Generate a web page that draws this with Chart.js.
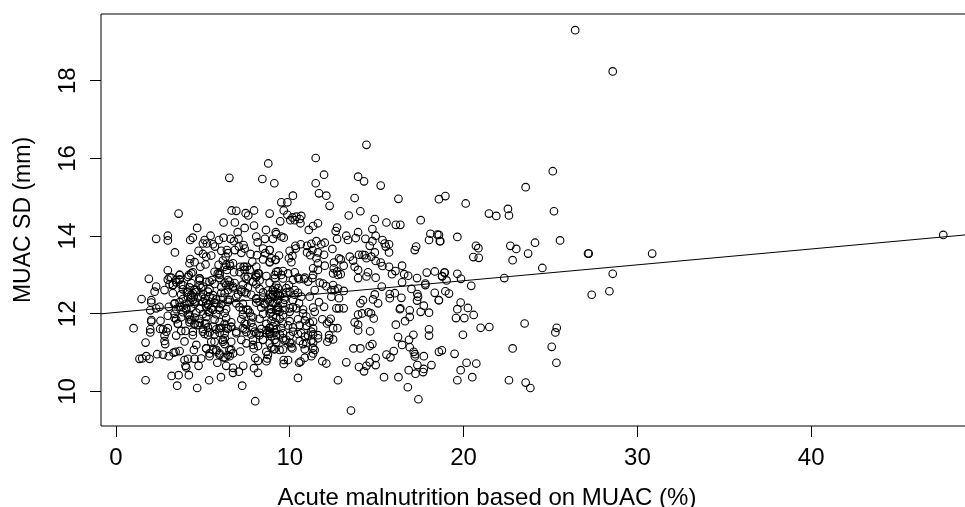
<!DOCTYPE html>
<html>
<head>
<meta charset="utf-8">
<title>MUAC SD vs acute malnutrition</title>
<script src="https://cdn.jsdelivr.net/npm/chart.js@4/dist/chart.umd.min.js"></script>
<style>
    html, body { margin: 0; padding: 0; background: #fff; overflow: hidden; }
    canvas { display: block; }
</style>
</head>
<body>
<canvas id="muacChart" width="965" height="507"></canvas>
<script>
const xTitle = 'Acute malnutrition based on MUAC (%)';
const yTitle = 'MUAC SD (mm)';
const xTicks = [0, 10, 20, 30, 40];
const yTicks = [10, 12, 14, 16, 18];

// same row layout in both lists
const acuteMalnutrition = [
    26.42,28.58,47.6,25.13,23.57,18.95,18.58,20.12,21.46,21.88,
    22.55,22.61,25.20,18.58,18.66,19.64,20.71,20.85,20.56,20.87,
    22.69,23.03,23.71,24.11,25.55,22.82,27.16,27.20,30.85,24.53,
    18.89,19.64,18.77,19.02,19.85,22.34,20.44,28.58,28.39,27.37,
    18.95,19.16,18.58,19.83,19.64,20.25,20.58,19.56,20.04,20.98,
    21.48,19.96,23.51,25.36,25.28,22.82,25.07,25.34,18.75,18.58,
    19.48,20.17,20.73,19.83,19.64,20.50,22.61,23.57,23.84,
    14.41,11.49,8.76,11.97,13.93,14.27,11.49,9.11,15.23,11.68,
    12.10,10.18,9.51,9.86,12.29,13.73,16.25,9.65,14.06,13.39,
    8.84,9.86,14.89,15.56,16.10,16.36,17.53,9.45,10.15,10.38,
    10.66,10.03,10.28,10.57,10.61,11.62,11.34,11.09,12.72,12.64,
    13.93,14.75,9.19,9.22,9.03,9.51,9.65,13.25,13.35,13.79,
    12.72,14.35,14.94,14.75,14.60,15.33,15.46,15.71,15.52,15.71,
    14.89,18.09,18.49,18.01,18.63,17.27,17.19,12.45,11.53,12.01,
    11.81,11.24,10.99,10.63,10.32,10.34,9.99,8.84,11.30,10.99,
    11.18,11.62,11.97,11.53,10.15,9.95,10.09,9.38,8.94,9.19,
    8.84,13.45,13.98,14.18,14.31,14.41,13.64,14.69,12.83,12.93,
    12.54,13.10,12.01,11.62,11.34,11.62,12.53,12.72,12.93,13.73,
    13.93,14.94,15.33,15.71,15.23,16.46,16.08,15.88,16.58,16.81,
    17.32,17.88,18.34,18.92,18.76,14.50,14.41,13.93,14.94,10.28,
    9.90,9.61,9.32,9.13,10.47,10.86,11.34,11.30,12.77,12.49,
    15.29,16.46,17.00,17.80,17.80,18.34,18.57,17.34,17.38,17.32,
    15.75,16.04,15.75,16.42,14.89,14.79,15.08,14.21,14.06,17.71,
    17.53,18.01,16.33,16.36,16.90,16.90,16.63,16.10,13.93,14.16,
    14.52,14.67,14.83,13.73,13.93,13.93,14.62,18.01,18.01,17.11,
    16.23,16.86,16.46,16.90,14.75,14.60,13.66,14.06,15.98,15.56,
    15.79,17.13,17.21,17.19,17.71,14.94,14.60,14.41,13.98,14.27,
    14.94,17.34,18.15,17.71,17.67,16.84,17.23,15.42,16.25,16.79,
    17.40,13.52,12.77,10.47,13.25,11.87,12.10,9.65,9.65,9.90,
    10.53,10.62,10.86,11.24,11.34,11.43,9.09,12.49,12.16,12.26,
    12.26,12.49,12.74,12.24,12.35,11.87,12.14,12.68,12.83,13.10,
    11.34,11.68,11.97,12.39,12.83,13.10,12.39,12.49,12.58,12.77,
    12.10,11.91,11.72,11.43,11.14,11.05,10.82,10.53,10.18,9.95,
    10.28,10.47,9.61,10.53,9.99,10.38,9.32,9.03,9.61,9.99,
    10.76,10.95,11.43,10.57,11.14,11.34,10.18,10.66,10.86,11.24,
    11.62,11.62,9.61,9.99,10.15,10.76,11.34,8.84,9.22,8.84,
    9.61,9.03,9.32,9.61,9.99,9.13,9.61,
    8.84,9.13,9.42,9.80,10.28,8.94,9.32,9.70,10.18,10.66,
    8.94,9.32,9.70,10.18,10.76,8.94,9.42,9.99,10.47,10.86,
    9.03,9.51,9.90,10.18,10.95,11.34,8.94,9.42,9.99,10.47,
    11.05,11.34,9.22,9.70,10.09,10.57,10.95,11.24,8.94,9.61,
    10.09,10.86,11.34,
    6.52,8.42,3.60,6.65,6.92,7.46,7.61,7.94,6.19,6.84,
    7.40,7.94,4.67,2.31,2.98,2.98,4.27,4.42,5.44,5.10,
    5.00,5.23,6.19,5.92,6.59,6.79,7.05,7.00,5.58,5.69,
    8.07,8.15,8.57,8.63,3.39,4.75,5.00,5.19,5.48,6.06,
    6.38,6.44,6.84,7.07,7.34,7.40,7.21,4.27,4.52,4.85,
    5.15,6.31,6.15,5.90,6.25,6.54,6.38,6.57,7.74,8.11,
    7.84,8.46,8.84,8.59,8.46,8.84,9.17,7.15,7.34,7.53,
    7.40,2.98,3.66,4.42,4.19,5.86,5.96,6.79,7.11,8.07,
    8.22,8.65,1.89,3.08,4.81,5.52,7.40,
    2.31,2.22,2.79,3.27,3.27,1.47,2.03,2.03,2.31,2.50,
    1.97,3.04,2.98,2.56,2.03,2.03,1.01,1.97,1.97,2.54,
    2.70,2.98,2.89,2.79,3.46,1.70,2.79,2.83,3.94,3.75,
    4.00,4.42,4.42,4.62,4.48,5.19,5.38,2.37,2.70,3.04,
    3.31,3.43,3.66,1.35,1.51,1.74,1.93,3.94,4.14,4.52,
    4.90,5.83,4.00,4.04,4.75,5.38,5.77,5.96,6.34,6.73,
    6.73,7.07,7.32,7.94,8.17,8.01,8.17,8.65,8.70,7.15,
    7.92,8.17,9.13,8.65,8.74,1.70,3.20,3.60,4.19,3.52,
    4.67,5.36,6.04,7.26,8.01,6.29,6.54,6.73,6.19,6.63,
    5.77,5.67,5.48,6.15,6.25,6.63,6.92,7.50,7.88,8.46,
    8.65,9.13,8.07,7.30,
    2.98,3.18,3.66,4.14,4.81,5.96,6.44,7.50,8.07,8.26,
    9.13,3.08,3.46,3.75,4.33,4.81,5.19,5.67,6.25,6.54,
    6.82,7.30,7.88,8.07,8.84,9.22,3.85,4.23,4.52,4.90,
    5.38,6.06,6.44,6.73,7.21,7.59,8.26,8.74,9.13,3.75,
    4.08,4.33,4.62,5.00,5.29,5.58,6.06,7.02,7.40,7.78,
    8.46,9.03,9.32,3.85,4.14,4.42,4.71,5.10,5.38,5.77,
    6.15,6.54,6.92,8.07,8.46,8.74,9.13,3.37,3.66,3.94,
    4.23,4.52,5.00,5.29,5.67,6.06,6.44,7.30,8.07,8.55,
    9.03,3.46,3.75,4.04,4.33,4.81,5.19,5.58,5.96,6.34,
    7.11,7.50,8.36,8.84,9.32,3.37,3.85,4.14,4.62,5.00,
    5.38,5.77,6.25,7.30,7.69,8.46,8.93,3.46,3.75,4.23,
    4.52,4.81,5.19,5.67,6.34,7.21,7.88,8.26,9.22,3.56,
    4.23,4.52,4.81,5.19,5.96,6.25,6.63,7.50,7.78,8.65,
    9.13,5.00,5.29,5.77,6.06,6.44,6.63,7.40,7.88,8.36,
    8.84,9.22,5.10,5.38,5.67,5.96,6.25,7.50,7.78,8.26,
    8.84,9.13,
    4.42,4.33,4.62,4.52,4.14,4.90,5.19,5.48,5.29,5.77,
    5.58,5.96,6.53,6.34,6.73,6.25,6.44,3.46,3.27,3.66,
    3.85,3.37,3.66,4.04,4.33,4.52,4.23,4.71,5.00,5.29,
    5.58,5.96,6.34,6.63,6.15,6.25,6.53,6.44,5.96,5.58,
    8.07,8.17,7.88,7.59,7.40,7.69,7.21,7.50,6.92,7.30,
    7.59,7.78,7.40,7.97,8.26,8.65,8.84,8.45,7.88,9.22,
    9.41,9.03,9.32,9.51,9.22,9.80,9.70,8.84,8.26,8.07,
    8.55,8.84,9.61,8.84,8.07,6.73,6.34,5.96,5.67,4.33,
    3.66,3.37,3.56,5.38,5.00,4.81,4.23,5.10,6.92,9.80,
    9.41,7.21,5.19
];
const muacSd = [
    19.30,18.24,14.03,15.67,15.26,15.03,14.95,14.84,14.58,14.52,
    14.70,14.53,14.64,14.03,13.87,13.98,13.75,13.69,13.46,13.44,
    13.75,13.67,13.55,13.83,13.89,13.38,13.55,13.55,13.55,13.18,
    13.06,13.03,12.97,12.86,12.90,12.92,12.72,13.03,12.58,12.49,
    12.58,12.52,12.35,12.29,12.12,12.15,11.97,11.89,11.89,11.64,
    11.66,11.46,11.75,11.64,11.52,11.11,11.15,10.74,11.06,11.02,
    10.97,10.74,10.72,10.55,10.29,10.37,10.29,10.23,10.09,
    16.35,16.01,15.87,15.58,15.53,15.41,15.36,15.36,15.30,15.10,
    15.04,15.04,14.87,14.87,14.78,14.98,14.96,14.66,14.64,14.53,
    14.58,14.55,14.44,14.35,14.29,14.29,14.41,14.38,14.48,14.50,
    14.52,14.41,14.41,14.44,14.33,14.33,14.26,14.16,14.22,14.13,
    14.10,14.18,14.10,14.05,13.93,13.99,13.96,14.01,13.90,13.95,
    13.93,13.93,14.01,13.87,13.75,13.90,13.81,13.79,13.73,13.58,
    13.58,14.06,14.04,13.90,13.87,13.73,13.64,13.67,13.87,13.83,
    13.79,13.80,13.75,13.79,13.75,13.68,13.62,13.64,13.64,13.58,
    13.51,13.58,13.52,13.43,13.49,13.43,13.33,13.50,13.43,13.39,
    13.32,13.47,13.52,13.52,13.51,13.43,13.37,13.47,13.43,13.40,
    13.32,13.24,13.24,13.30,13.17,13.13,13.17,13.09,13.02,13.21,
    13.13,13.36,13.23,13.21,13.32,13.24,13.10,13.02,13.02,12.98,
    12.92,13.06,13.09,13.06,12.96,13.07,12.96,12.92,12.93,13.07,
    13.04,13.10,13.09,13.00,12.93,12.93,13.00,12.92,13.00,13.04,
    12.70,12.81,12.64,12.78,12.74,12.54,12.35,12.51,12.44,12.34,
    12.51,12.53,12.40,12.41,12.50,12.37,12.27,12.35,12.27,12.21,
    12.05,12.03,12.12,12.14,12.09,11.92,11.81,11.72,11.98,12.01,
    12.04,12.01,11.88,11.78,11.72,11.57,11.55,11.60,11.44,11.46,
    11.40,11.33,11.20,11.14,11.22,11.17,11.11,11.11,11.04,10.95,
    10.88,11.02,10.96,10.90,10.91,10.86,10.75,10.66,10.63,10.52,
    10.68,10.68,10.68,10.58,10.50,10.55,10.46,10.37,10.37,10.11,
    9.80,9.51,10.29,10.35,10.75,10.78,10.72,10.81,10.71,10.81,
    10.74,10.77,10.87,10.91,10.98,11.07,11.09,11.34,11.28,11.45,
    11.37,11.63,11.63,11.80,11.87,11.86,11.75,12.14,12.14,12.14,
    12.16,12.30,12.18,12.44,12.40,12.59,12.61,12.74,12.61,12.65,
    12.71,12.78,12.80,12.61,12.44,12.83,12.89,12.89,12.87,12.74,
    12.61,12.54,12.91,12.27,12.14,12.14,12.10,11.93,11.97,12.05,
    12.01,11.93,12.05,11.71,11.77,11.80,11.54,11.50,11.41,11.54,
    11.45,11.37,11.37,11.26,11.11,11.22,11.26,11.63,11.45,11.50,
    11.50,12.61,12.53,12.53,12.57,12.27,12.27,
    12.50,12.56,12.47,12.55,12.49,12.43,12.36,12.42,12.35,12.44,
    12.12,12.18,12.10,12.17,12.11,11.82,11.87,11.81,11.86,11.83,
    11.68,11.63,11.70,11.65,11.69,11.62,11.42,11.47,11.43,11.48,
    11.44,11.47,11.26,11.31,11.24,11.30,11.25,11.31,11.13,11.08,
    11.14,11.09,11.12,
    15.50,15.47,14.58,14.66,14.65,14.59,14.53,14.66,14.35,14.35,
    14.21,14.27,14.21,13.93,14.01,13.89,13.90,13.96,14.01,13.90,
    13.81,13.81,13.96,13.90,13.93,13.87,13.93,14.10,13.79,13.73,
    13.99,13.84,13.93,14.16,13.58,13.62,13.54,13.47,13.50,13.62,
    13.64,13.56,13.64,13.73,13.77,13.68,13.57,13.41,13.33,13.21,
    13.27,13.47,13.37,13.26,13.21,13.28,13.13,13.23,13.54,13.51,
    13.34,13.68,13.64,13.56,13.40,13.34,13.39,13.21,13.21,13.21,
    13.13,13.12,13.00,13.07,13.00,13.04,13.00,13.07,13.07,13.00,
    13.04,12.97,12.90,12.94,12.91,12.87,12.96,
    12.70,12.57,12.61,12.74,12.53,12.38,12.35,12.29,12.14,12.18,
    12.09,12.18,11.95,11.82,11.84,11.80,11.63,11.60,11.52,11.61,
    11.60,11.63,11.54,11.44,11.44,11.26,11.30,11.22,11.29,11.56,
    11.56,11.54,11.45,11.20,11.07,11.11,10.98,10.96,10.95,10.91,
    11.00,11.02,11.04,10.84,10.85,10.91,10.84,10.81,10.84,10.84,
    10.85,10.74,10.66,10.62,10.66,10.91,11.03,10.94,10.66,10.61,
    10.48,10.51,10.66,10.60,10.48,10.86,10.79,10.78,10.85,11.03,
    11.11,11.17,11.09,11.02,10.94,10.29,10.40,10.42,10.42,10.15,
    10.09,10.29,10.37,10.15,9.75,10.87,10.91,10.98,10.88,11.07,
    11.07,11.28,11.28,11.33,11.22,11.28,11.50,11.24,11.33,11.33,
    11.50,11.33,11.50,11.63,
    12.88,12.93,12.89,12.95,12.86,12.92,12.87,12.90,12.94,12.86,
    12.91,12.76,12.81,12.75,12.79,12.74,12.82,12.77,12.80,12.74,
    12.79,12.75,12.82,12.76,12.80,12.74,12.63,12.68,12.62,12.67,
    12.63,12.69,12.61,12.66,12.62,12.68,12.64,12.60,12.67,12.50,
    12.55,12.49,12.56,12.51,12.57,12.48,12.54,12.50,12.56,12.49,
    12.55,12.50,12.47,12.38,12.43,12.36,12.42,12.39,12.44,12.37,
    12.41,12.36,12.43,12.38,12.42,12.37,12.44,12.25,12.30,12.24,
    12.29,12.26,12.30,12.24,12.28,12.25,12.31,12.26,12.29,12.24,
    12.28,12.12,12.17,12.11,12.16,12.13,12.18,12.10,12.16,12.12,
    12.17,12.11,12.16,12.12,12.15,12.00,12.04,11.98,12.03,11.99,
    12.04,11.99,12.02,11.98,12.03,12.00,12.04,11.86,11.91,11.85,
    11.90,11.87,11.92,11.85,11.89,11.86,11.91,11.87,11.90,11.74,
    11.78,11.73,11.77,11.75,11.79,11.74,11.78,11.73,11.77,11.74,
    11.78,11.61,11.65,11.60,11.64,11.62,11.66,11.60,11.65,11.61,
    11.64,11.60,11.48,11.52,11.47,11.51,11.49,11.53,11.47,11.51,
    11.48,11.52,
    12.53,12.40,12.61,12.31,12.57,12.44,12.27,12.14,12.05,12.27,
    12.40,12.10,12.83,12.74,12.70,12.53,12.36,12.87,12.74,12.87,
    12.74,12.27,12.18,12.14,11.84,11.75,11.93,11.71,11.54,11.45,
    11.67,11.63,11.63,11.67,11.28,11.37,11.07,10.94,10.98,11.07,
    12.96,13.04,12.83,12.96,13.21,13.13,12.57,12.53,12.27,12.10,
    12.10,11.93,11.75,11.54,11.45,11.58,11.54,11.33,11.20,12.10,
    12.05,12.61,12.66,13.00,13.08,12.66,12.36,12.31,12.31,12.40,
    12.27,12.01,11.75,11.24,13.21,13.30,13.26,13.04,13.08,13.04,
    13.00,11.89,11.75,12.83,12.70,12.91,13.30,11.75,11.54,11.33,
    11.07,11.33,11.11
];

// regression line, ends read at the plot edges
const fitX = [-0.864, 48.85];
const fitY = [12.0, 14.03];

const axisFont = '24px "Liberation Sans", Arial, sans-serif';
const yTitleFont = '23px "Liberation Sans", Arial, sans-serif';

// R style frame, rotated y labels and the off-centre x title
const baseAxes = {
    id: 'baseAxes',
    afterDraw(chart) {
        const { ctx, chartArea: a, scales } = chart;
        ctx.save();
        ctx.strokeStyle = '#000';
        ctx.lineWidth = 1;
        ctx.beginPath();
        ctx.moveTo(a.right, a.top);
        ctx.lineTo(a.left, a.top);
        ctx.lineTo(a.left, a.bottom);
        ctx.lineTo(a.right, a.bottom);
        ctx.stroke();

        ctx.fillStyle = '#000';
        ctx.font = axisFont;
        ctx.textAlign = 'center';
        ctx.textBaseline = 'alphabetic';
        ctx.fillText(xTitle, 487, 505);

        yTicks.forEach(v => {
            ctx.save();
            ctx.translate(75, scales.y.getPixelForValue(v));
            ctx.rotate(-Math.PI / 2);
            ctx.fillText(String(v), 0, 0);
            ctx.restore();
        });
        ctx.font = yTitleFont;
        ctx.save();
        ctx.translate(30, 220);
        ctx.rotate(-Math.PI / 2);
        ctx.fillText(yTitle, 0, 0);
        ctx.restore();
        ctx.restore();
    }
};

new Chart(document.getElementById('muacChart'), {
    data: {
        datasets: [
            {
                type: 'scatter',
                data: acuteMalnutrition.map((x, i) => ({ x, y: muacSd[i] })),
                backgroundColor: 'transparent',
                borderColor: '#000',
                borderWidth: 1.1,
                pointRadius: 3.8,
                order: 2
            },
            {
                type: 'line',
                data: fitX.map((x, i) => ({ x, y: fitY[i] })),
                borderColor: '#000',
                borderWidth: 1,
                pointRadius: 0,
                order: 1
            }
        ]
    },
    options: {
        responsive: false,
        animation: false,
        layout: { autoPadding: false, padding: { top: 14, right: 0, bottom: 0, left: 0 } },
        plugins: { legend: { display: false }, tooltip: { enabled: false } },
        scales: {
            x: {
                type: 'linear',
                min: -0.864,
                max: 48.85,
                afterBuildTicks: s => { s.ticks = xTicks.map(value => ({ value })); },
                afterFit: s => { s.height = 81; },
                border: { display: false },
                grid: { drawOnChartArea: false, tickLength: 11, color: '#000', lineWidth: 1 },
                ticks: {
                    padding: 7,
                    maxRotation: 0,
                    color: '#000',
                    font: { family: '"Liberation Sans", Arial, sans-serif', size: 24 }
                }
            },
            y: {
                type: 'linear',
                min: 9.112,
                max: 19.717,
                afterBuildTicks: s => { s.ticks = yTicks.map(value => ({ value })); },
                afterFit: s => { s.width = 101; },
                border: { display: false },
                grid: { drawOnChartArea: false, tickLength: 11, color: '#000', lineWidth: 1 },
                ticks: { display: false }
            }
        }
    },
    plugins: [baseAxes]
});
</script>
</body>
</html>
